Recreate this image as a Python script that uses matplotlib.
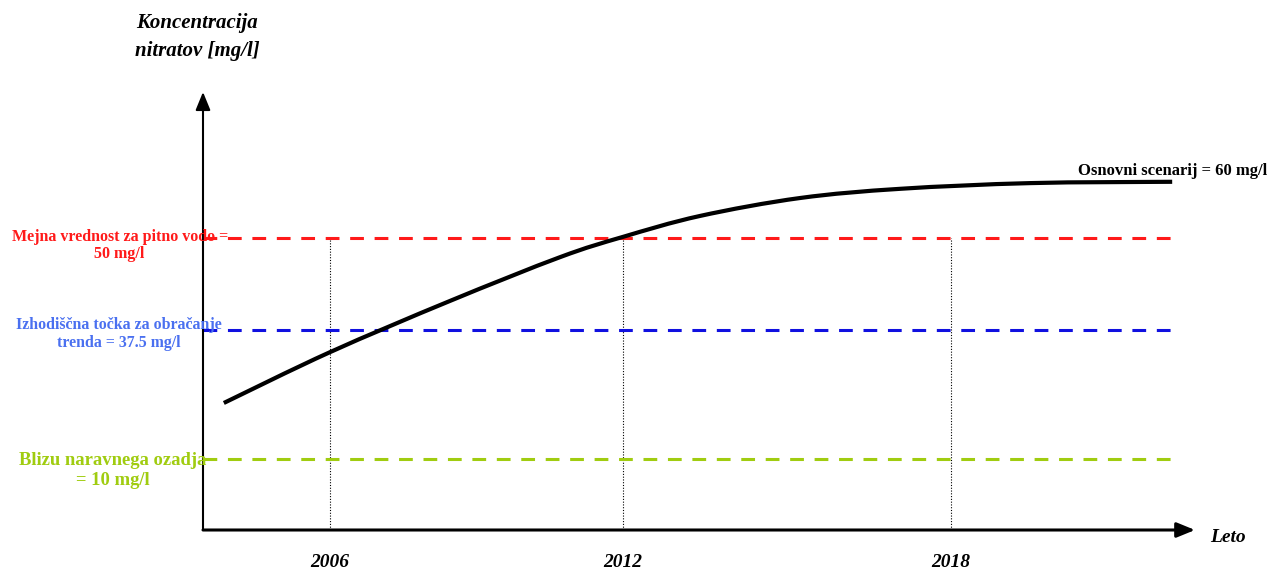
import matplotlib
matplotlib.use("Agg")
import matplotlib.pyplot as plt
from matplotlib.path import Path
from matplotlib.patches import PathPatch

plt.rcParams["font.family"] = ["Liberation Serif", "DejaVu Serif"]

# schematic units: x 0..100 along the time axis, y 0..100 along the concentration axis
curve_x = [2.1, 12.8, 24.9, 36.0, 42.3, 50.1, 60.2, 70.3, 83.4, 97.7]
curve_y = [29.0, 40.6, 52.3, 62.3, 66.9, 71.7, 75.8, 77.9, 79.2, 79.5]

level_names = ["Mejna vrednost za pitno vodo =\n50 mg/l",
               "Izhodiščna točka za obračanje\ntrenda = 37.5 mg/l",
               "Blizu naravnega ozadja\n= 10 mg/l"]
level_y = [66.7, 45.7, 16.2]
level_line_colors = ["#ff1a1a", "#1010e0", "#a0cc10"]
level_text_colors = ["#ff1a1a", "#4a70f0", "#a0cc10"]

year_labels = ["2006", "2012", "2018"]
year_x = [12.8, 42.3, 75.4]
line_end = 97.7

# label layout (axis units)
label_xy = [(-8.4, 65.0), (-8.5, 44.7), (-9.1, 13.6)]
label_fs = [11.5, 11.4, 13.4]
label_ls = [1.05, 1.15, 1.2]

fig = plt.figure(figsize=(12.7, 5.72), dpi=100)
ax = fig.add_axes([203 / 1270, 42 / 572, 992 / 1270, 438 / 572])
ax.set_xlim(0, 100)
ax.set_ylim(0, 100)
ax.axis("off")

# vertical dotted guides up to the drinking-water limit
for xv in year_x:
    ax.plot([xv, xv], [0, level_y[0]], color="black", lw=0.8, ls=(0, (1, 1.5)), zorder=1)

for yv, c in zip(level_y, level_line_colors):
    ax.plot([0, line_end], [yv, yv], color=c, lw=2.2, ls=(0, (4.5, 3.5)), zorder=2)

# smooth curve through the read points (Catmull-Rom drawn as cubic Bezier path)
pts = list(zip(curve_x, curve_y))
verts = [pts[0]]
codes = [Path.MOVETO]
for i in range(len(pts) - 1):
    p0 = pts[max(i - 1, 0)]
    p1 = pts[i]
    p2 = pts[i + 1]
    p3 = pts[min(i + 2, len(pts) - 1)]
    c1 = (p1[0] + (p2[0] - p0[0]) / 6, p1[1] + (p2[1] - p0[1]) / 6)
    c2 = (p2[0] - (p3[0] - p1[0]) / 6, p2[1] - (p3[1] - p1[1]) / 6)
    verts += [c1, c2, p2]
    codes += [Path.CURVE4] * 3
ax.add_patch(PathPatch(Path(verts, codes), facecolor="none", edgecolor="black",
                       lw=3, capstyle="butt", zorder=3))

# axes with arrows
ax.annotate("", xy=(0, 1.0), xytext=(0, 0), xycoords="axes fraction",
            arrowprops=dict(arrowstyle="-|>,head_length=1.1,head_width=0.45",
                            color="black", lw=1.5, shrinkA=0, shrinkB=0), zorder=4)
ax.annotate("", xy=(1.0, 0), xytext=(0, 0), xycoords="axes fraction",
            arrowprops=dict(arrowstyle="-|>,head_length=1.1,head_width=0.45",
                            color="black", lw=2.2, shrinkA=0, shrinkB=0), zorder=4)

# texts
fig.text(197 / 1270, 1 - 37 / 572, "Koncentracija\nnitratov [mg/l]", ha="center",
         va="center", fontsize=15, fontweight="bold", fontstyle="italic",
         linespacing=1.5)
fig.text(1228 / 1270, 1 - 538 / 572, "Leto", ha="center", va="center", fontsize=14,
         fontweight="bold", fontstyle="italic")
for lab, xv in zip(year_labels, year_x):
    ax.text(xv, -7.5, lab, ha="center", va="center", fontsize=14, fontweight="bold",
            fontstyle="italic", clip_on=False)

for name, (tx, ty), c, fs, ls in zip(level_names, label_xy, level_text_colors,
                                      label_fs, label_ls):
    ax.text(tx, ty, name, ha="center", va="center", color=c, fontsize=fs,
            fontweight="bold", linespacing=ls, clip_on=False, zorder=5)

fig.text(1267 / 1270, 1 - 171 / 572, "Osnovni scenarij = 60 mg/l", ha="right",
         va="center", fontsize=12, fontweight="bold")

fig.savefig("out.png", dpi=100)
